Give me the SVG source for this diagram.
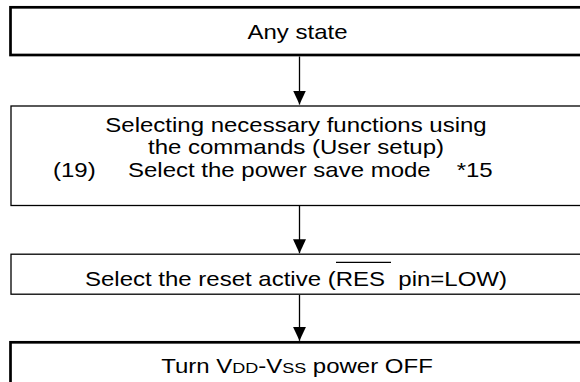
<svg xmlns="http://www.w3.org/2000/svg" width="580" height="382" viewBox="0 0 580 382">
  <style>
    .box { fill: #fff; stroke: #000; }
    .thick { stroke-width: 2.7; }
    .thin { stroke-width: 1.3; }
    .t { font-family: "Liberation Sans", Arial, sans-serif; font-size: 20px; fill: #000; white-space: pre; }
    .mid { text-anchor: middle; }
    .sc { font-size: 15px; }
    .conn { stroke: #000; stroke-width: 1.3; fill: none; marker-end: url(#arrow); }
  </style>
  <defs>
    <marker id="arrow" markerUnits="userSpaceOnUse" markerWidth="14" markerHeight="13" viewBox="0 0 14 13" refX="14" refY="6.5" orient="auto">
      <path d="M0,0 L14,6.5 L0,13 z" fill="#000"/>
    </marker>
  </defs>
  <rect width="580" height="382" fill="#fff"/>

  <g id="node-any-state">
    <rect class="box thick" x="10.5" y="7.3" width="600" height="47.7"/>
    <text class="t mid" transform="translate(297.5,39) scale(1.2,1)">Any state</text>
  </g>

  <g id="node-select-functions">
    <rect class="box thin" x="11" y="106" width="600" height="99.5"/>
    <text class="t mid" transform="translate(296,131.5) scale(1.2,1)">Selecting necessary functions using</text>
    <text class="t mid" transform="translate(296,154) scale(1.2,1)">the commands (User setup)</text>
    <text class="t" transform="translate(53,176.5) scale(1.2,1)">(19)</text>
    <text class="t" transform="translate(128,176.5) scale(1.2,1)">Select the power save mode</text>
    <text class="t" transform="translate(456.7,176.5) scale(1.2,1)">*15</text>
  </g>

  <g id="node-reset">
    <rect class="box thin" x="11" y="254.2" width="600" height="40"/>
    <text class="t" transform="translate(85,285.5) scale(1.2,1)">Select the reset active (RES  pin=LOW)</text>
    <line x1="336" y1="262.3" x2="391" y2="262.3" stroke="#000" stroke-width="1.3"/>
  </g>

  <g id="node-power-off">
    <rect class="box thick" x="10.5" y="342.3" width="600" height="60"/>
    <text class="t mid" transform="translate(297,372.5) scale(1.2,1)">Turn V<tspan class="sc">DD</tspan>-V<tspan class="sc">SS</tspan> power OFF</text>
  </g>

  <g id="connectors">
    <line class="conn" x1="299.5" y1="56.5" x2="299.5" y2="104.5"/>
    <line class="conn" x1="299.5" y1="206" x2="299.5" y2="253.3"/>
    <line class="conn" x1="299.5" y1="295" x2="299.5" y2="340.8"/>
  </g>
</svg>
